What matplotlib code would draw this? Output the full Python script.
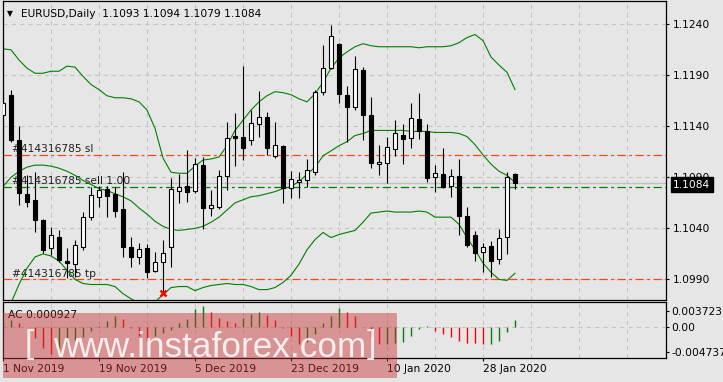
import matplotlib
matplotlib.use("Agg")
import matplotlib.pyplot as plt
from matplotlib.patches import Rectangle

plt.rcParams['lines.scale_dashes'] = False
plt.rcParams['font.family'] = ['DejaVu Sans']

# ---------------- data ----------------
opens = [1.1151, 1.1171, 1.1127, 1.1074, 1.1068, 1.1048, 1.1021, 1.1032, 1.1008, 1.1005,
         1.1022, 1.1051, 1.1071, 1.1079, 1.1074, 1.1059, 1.1022, 1.1012, 1.1021, 1.0998,
         1.1007, 1.1022, 1.1077, 1.1082, 1.1077, 1.1102, 1.1060, 1.1061, 1.1091, 1.1131,
         1.1130, 1.1127, 1.1142, 1.1149, 1.1111, 1.1121, 1.1080, 1.1085, 1.1087, 1.1095,
         1.1174, 1.1197, 1.1221, 1.1171, 1.1159, 1.1195, 1.1151, 1.1103, 1.1104, 1.1118,
         1.1132, 1.1129, 1.1147, 1.1135, 1.1090, 1.1093, 1.1082, 1.1091, 1.1052, 1.1034,
         1.1017, 1.1023, 1.1010, 1.1032, 1.1093]
highs = [1.1173, 1.1176, 1.1140, 1.1092, 1.1095, 1.1049, 1.1041, 1.1038, 1.1021, 1.1029,
         1.1056, 1.1081, 1.1082, 1.1082, 1.1081, 1.1095, 1.1032, 1.1026, 1.1025, 1.1017,
         1.1029, 1.1089, 1.1093, 1.1117, 1.1109, 1.1110, 1.1078, 1.1097, 1.1144, 1.1153,
         1.1199, 1.1156, 1.1175, 1.1154, 1.1144, 1.1122, 1.1096, 1.1095, 1.1108, 1.1176,
         1.1220, 1.1239, 1.1222, 1.1180, 1.1209, 1.1198, 1.1169, 1.1122, 1.1130, 1.1146,
         1.1142, 1.1163, 1.1173, 1.1142, 1.1102, 1.1119, 1.1098, 1.1108, 1.1061, 1.1037,
         1.1026, 1.1028, 1.1039, 1.1095, 1.1094]
lows = [1.1129, 1.1125, 1.1063, 1.1061, 1.1036, 1.1016, 1.1014, 1.1007, 1.0991, 1.0992,
        1.1019, 1.1048, 1.1061, 1.1051, 1.1051, 1.1012, 1.1002, 1.1005, 1.0991, 1.0997,
        1.0977, 1.1002, 1.1065, 1.1066, 1.1075, 1.1039, 1.1052, 1.1059, 1.1078, 1.1101,
        1.1107, 1.1122, 1.1130, 1.1112, 1.1109, 1.1065, 1.1070, 1.1070, 1.1081, 1.1092,
        1.1171, 1.1196, 1.1163, 1.1125, 1.1156, 1.1127, 1.1099, 1.1092, 1.1084, 1.1111,
        1.1103, 1.1119, 1.1128, 1.1085, 1.1076, 1.1080, 1.1071, 1.1034, 1.1022, 1.1008,
        1.0997, 1.0992, 1.1005, 1.1015, 1.1079]
closes = [1.1163, 1.1127, 1.1075, 1.1066, 1.1048, 1.1019, 1.1034, 1.1009, 1.1006, 1.1024,
          1.1051, 1.1073, 1.1078, 1.1072, 1.1057, 1.1022, 1.1012, 1.1020, 1.0997, 1.1007,
          1.1016, 1.1079, 1.1081, 1.1076, 1.1103, 1.1060, 1.1063, 1.1091, 1.1129, 1.1129,
          1.1119, 1.1143, 1.1149, 1.1119, 1.1122, 1.1080, 1.1088, 1.1087, 1.1097, 1.1174,
          1.1197, 1.1229, 1.1172, 1.1159, 1.1196, 1.1151, 1.1104, 1.1105, 1.1120, 1.1133,
          1.1128, 1.1148, 1.1135, 1.1089, 1.1094, 1.1081, 1.1091, 1.1052, 1.1024, 1.1016,
          1.1022, 1.1008, 1.1031, 1.1090, 1.1084]

bb_upper = [1.1216, 1.1215, 1.1205, 1.1197, 1.1192, 1.1192, 1.1194, 1.1194, 1.1199, 1.1198,
            1.1189, 1.1181, 1.1176, 1.1170, 1.1168, 1.1168, 1.1167, 1.1164, 1.1156, 1.1138,
            1.1109, 1.1095, 1.1094, 1.1094, 1.1101, 1.1107, 1.1108, 1.1110, 1.1121, 1.1136,
            1.1146, 1.1156, 1.1164, 1.1170, 1.1174, 1.1173, 1.1171, 1.1167, 1.1164, 1.1172,
            1.1183, 1.1197, 1.1207, 1.1213, 1.1218, 1.1221, 1.1219, 1.1218, 1.1218, 1.1218,
            1.1218, 1.1218, 1.1217, 1.1218, 1.1218, 1.1218, 1.1219, 1.1222, 1.1227, 1.1230,
            1.1224, 1.1208, 1.1200, 1.1193, 1.1176]
bb_middle = [1.1081, 1.1090, 1.1096, 1.1100, 1.1102, 1.1102, 1.1101, 1.1099, 1.1096, 1.1092,
             1.1087, 1.1083, 1.1079, 1.1077, 1.1074, 1.1071, 1.1067, 1.1060, 1.1054, 1.1047,
             1.1042, 1.1039, 1.1038, 1.1039, 1.1040, 1.1042, 1.1046, 1.1051, 1.1058, 1.1065,
             1.1068, 1.1071, 1.1072, 1.1074, 1.1076, 1.1079, 1.1081, 1.1086, 1.1093, 1.1100,
             1.1111, 1.1116, 1.1121, 1.1125, 1.1131, 1.1133, 1.1136, 1.1136, 1.1136, 1.1136,
             1.1136, 1.1135, 1.1135, 1.1135, 1.1134, 1.1134, 1.1134, 1.1133, 1.1130, 1.1122,
             1.1112, 1.1103, 1.1096, 1.1092, 1.1085]
bb_lower = [1.0949, 1.0967, 1.0985, 1.1001, 1.1012, 1.1015, 1.1013, 1.1008, 1.0999, 1.0990,
            1.0986, 1.0985, 1.0985, 1.0985, 1.0983, 1.0976, 1.0971, 1.0967, 1.0965, 1.0968,
            1.0975, 1.0982, 1.0983, 1.0983, 1.0979, 1.0982, 1.0984, 1.0985, 1.0986, 1.0985,
            1.0985, 1.0983, 1.0980, 1.0980, 1.0982, 1.0987, 1.0994, 1.1005, 1.1019, 1.1029,
            1.1036, 1.1031, 1.1034, 1.1036, 1.1038, 1.1046, 1.1055, 1.1056, 1.1057, 1.1056,
            1.1056, 1.1056, 1.1057, 1.1056, 1.1051, 1.1051, 1.1051, 1.1044, 1.1031, 1.1019,
            1.1006, 1.0997, 1.0990, 1.0989, 1.0996]

ac_values = [0.00011, 0.00095, 0.00060, -0.00015, -0.00181, -0.00325, -0.00415, -0.00355, -0.00272, -0.00208,
             -0.00159, -0.00065, 0.00008, 0.00086, 0.00162, 0.00110, -0.00030, -0.00140, -0.00216, -0.00151,
             -0.00106, -0.00060, 0.00056, 0.00116, 0.00267, 0.00307, 0.00216, 0.00125, 0.00086, 0.00060,
             0.00136, 0.00196, 0.00227, 0.00181, 0.00106, -0.00030, -0.00151, -0.00272, -0.00242, -0.00121,
             0.00060, 0.00166, 0.00287, 0.00227, 0.00166, -0.00015, -0.00166, -0.00272, -0.00261, -0.00254,
             -0.00230, -0.00143, -0.00041, 0.00005, -0.00065, -0.00116, -0.00166, -0.00216, -0.00246, -0.00249,
             -0.00267, -0.00261, -0.00216, -0.00080, 0.000927]

date_ticks = [0, 12, 24, 36, 48, 60]
date_labels = ['1 Nov 2019', '19 Nov 2019', '5 Dec 2019', '23 Dec 2019', '10 Jan 2020', '28 Jan 2020']
price_ticks = [1.1240, 1.1190, 1.1140, 1.1090, 1.1040, 1.0990]
ac_range = (-0.004737, 0.003723)
ac_tick_labels = ['0.003723', '0.00', '-0.004737']

symbol_title = 'EURUSD,Daily'
last_ohlc = ['1.1093', '1.1094', '1.1079', '1.1084']
order_id = '#414316785'
sl_level = 1.1112
entry_level = 1.1081
entry_text = 'sell 1.00'
tp_level = 1.0990
bid_price = 1.1084
ac_current = '0.000927'
close_mark_idx = 20
close_mark_price = 1.0977
watermark = 'www.instaforex.com'

# ---------------- layout ----------------
W, H = 723, 382
BG = '#e6e6e6'
GRID = '#c4c4c4'
GREEN = '#008000'
ORANGE = '#f04a1a'
FS = 7.7

fig = plt.figure(figsize=(W / 100, H / 100), dpi=100, facecolor=BG)


def fx(x):
    return x / W


def fy(y):
    return 1 - y / H


LEFT, RIGHT = 2.5, 666.0
ax = fig.add_axes([fx(LEFT), fy(300), (RIGHT - LEFT) / W, (300 - 1) / H])
ax2 = fig.add_axes([fx(LEFT), fy(357.7), (RIGHT - LEFT) / W, (357.7 - 302) / H])

n = len(opens)
idx = list(range(n))
# pixel -> bar index: x = 3 + 8 * i
x_lo = (LEFT - 3) / 8
x_hi = (RIGHT - 3) / 8
p_top = 1.1240 + (24.3 - 1) * 0.000098
p_bot = 1.1240 - (300 - 24.3) * 0.000098

for a in (ax, ax2):
    a.set_facecolor(BG)
    a.set_xlim(x_lo, x_hi)
    for s in a.spines.values():
        s.set_color('black')
        s.set_linewidth(0.9)
    a.set_axisbelow(True)

ax.set_ylim(p_bot, p_top)
ax2.set_ylim(*ac_range)

# grid
for k in range(0, 84, 6):
    ax.axvline(k, color=GRID, lw=0.8, dashes=(3, 3), zorder=0.3)
    ax2.axvline(k, color=GRID, lw=0.8, dashes=(3, 3), zorder=0.3)
for p in price_ticks:
    ax.axhline(p, color=GRID, lw=0.8, dashes=(3, 3), zorder=0.3)
ax2.axhline(0, color=GRID, lw=0.8, dashes=(3, 3), zorder=0.3)

# main y axis on the right
ax.yaxis.tick_right()
ax.set_yticks(price_ticks)
ax.set_yticklabels(['%.4f' % p for p in price_ticks])
ax.tick_params(axis='y', direction='out', length=2.2, width=0.8, pad=2.6,
               labelsize=FS, colors='black')
ax.tick_params(axis='x', bottom=False, labelbottom=False)

# order lines
ax.axhline(bid_price, color='#c0c0c0', lw=1.0, zorder=1.0)
ax.axhline(sl_level, color=ORANGE, lw=0.9, dashes=(6, 2.5, 2, 2.5), zorder=1.1)
ax.axhline(tp_level, color=ORANGE, lw=0.9, dashes=(6, 2.5, 2, 2.5), zorder=1.1)
ax.axhline(entry_level, color=GREEN, lw=0.9, dashes=(6, 2.5, 2, 2.5), zorder=1.1)

tf = fig.transFigure
ax.text(fx(12), fy(152.5), f'{order_id} sl', transform=tf, fontsize=FS, color='#202020',
        va='baseline', ha='left', zorder=1.5, clip_on=False)
ax.text(fx(12), fy(183.8), f'{order_id} {entry_text}', transform=tf, fontsize=FS, color='#202020',
        va='baseline', ha='left', zorder=1.5, clip_on=False)
ax.text(fx(12), fy(276.8), f'{order_id} tp', transform=tf, fontsize=FS, color='#202020',
        va='baseline', ha='left', zorder=1.5, clip_on=False)

# bollinger bands
ax.plot(idx, bb_upper, color=GREEN, lw=0.8, zorder=2)
ax.plot(idx, bb_middle, color=GREEN, lw=0.8, zorder=2)
ax.plot(idx, bb_lower, color=GREEN, lw=0.8, zorder=2)

# candles
ax.vlines(idx, lows, highs, color='black', lw=0.8, zorder=3)
bottoms = [min(o, c) for o, c in zip(opens, closes)]
heights = [max(abs(c - o), 0.00008) for o, c in zip(opens, closes)]
faces = ['white' if c > o else 'black' for o, c in zip(opens, closes)]
ax.bar(idx, heights, bottom=bottoms, width=0.56, color=faces, edgecolor='black',
       linewidth=0.8, zorder=4)

# close marker
ax.plot([close_mark_idx], [close_mark_price], marker='x', color='red', ms=4.5, mew=1.8,
        zorder=5, clip_on=False)

# current price box
ax.text(fx(673), fy(187.6), f'{bid_price:.4f}', transform=tf, fontsize=FS, color='white',
        va='baseline', ha='left', zorder=20, clip_on=False,
        bbox=dict(boxstyle='square,pad=0.22', facecolor='black', edgecolor='black'))

# title
fig.text(fx(7), fy(16.2), '\u25bc', fontsize=5.5, color='black', ha='left', va='baseline')
fig.text(fx(21), fy(16.7), symbol_title + '  ' + ' '.join(last_ohlc), fontsize=FS,
         color='black', ha='left', va='baseline')

# ---------------- AC sub window ----------------
ac_colors = [GREEN] + [GREEN if ac_values[i] > ac_values[i - 1] else 'red' for i in range(1, n)]
ax2.vlines(idx, 0, ac_values, colors=ac_colors, lw=1.0, zorder=2)
ax2.text(fx(8), fy(318.3), 'AC ' + ac_current, transform=tf, fontsize=FS, color='black',
         va='baseline', ha='left', zorder=3, clip_on=False)

px_val = (ac_range[1] - ac_range[0]) / 55.7
ac_tick_pos = [ac_range[1] - 8.7 * px_val, 0.0, ac_range[0] + 6.0 * px_val]
ax2.yaxis.tick_right()
ax2.set_yticks(ac_tick_pos)
ax2.set_yticklabels(ac_tick_labels)
ax2.tick_params(axis='y', direction='out', length=2.2, width=0.8, pad=1.5,
                labelsize=FS, colors='black')
ax2.set_xticks(date_ticks)
ax2.set_xticklabels(date_labels)
ax2.tick_params(axis='x', direction='out', length=2.2, width=0.8, pad=2.2,
                labelsize=FS, colors='black')
for lab in ax2.get_xticklabels():
    lab.set_horizontalalignment('left')

# ---------------- watermark ----------------
WM_FONT = ['Liberation Sans Narrow', 'Liberation Sans', 'DejaVu Sans']
fig.add_artist(Rectangle((fx(3), fy(378.3)), (397 - 3) / W, (378.3 - 312.7) / H,
                         transform=tf, facecolor='#c83232', edgecolor='none', alpha=0.45, zorder=30))
fig.text(fx(53), fy(356.7), watermark, fontsize=25.3, family=WM_FONT,
         color='white', alpha=0.85, ha='left', va='baseline', zorder=31)
fig.text(fx(25), fy(353), '[', fontsize=24, family=WM_FONT,
         color='white', alpha=0.85, ha='left', va='baseline', zorder=31)
fig.text(fx(367), fy(353), ']', fontsize=24, family=WM_FONT,
         color='white', alpha=0.85, ha='left', va='baseline', zorder=31)

fig.savefig('out.png', dpi=100, facecolor=BG)
